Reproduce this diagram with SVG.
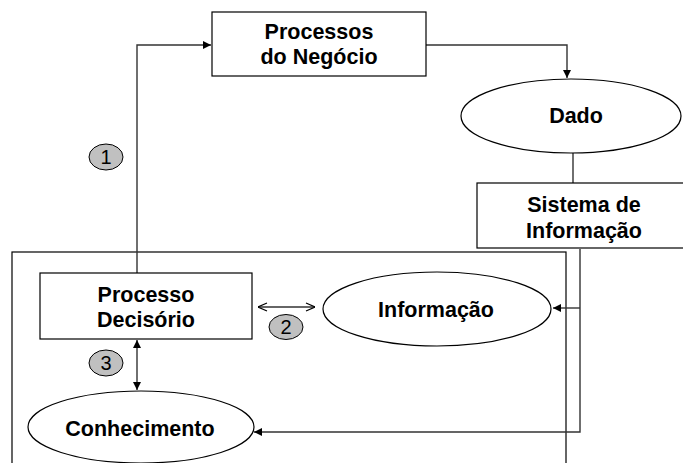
<svg xmlns="http://www.w3.org/2000/svg" width="683" height="463" viewBox="0 0 683 463">
<defs>
<style>
.box{fill:#fff;stroke:#000;stroke-width:1.2}
.frame{fill:none;stroke:#000;stroke-width:1.2}
.lbl{font-family:"Liberation Sans",Arial,sans-serif;font-weight:bold;font-size:21.5px;text-anchor:middle;fill:#000}
.num{font-family:"Liberation Sans",Arial,sans-serif;font-size:20px;text-anchor:middle;fill:#000}
.badge{fill:#c0c0c0;stroke:#000;stroke-width:1}
.con{fill:none;stroke:#333;stroke-width:1.4}
</style>
<marker id="tri" viewBox="0 0 10 10" refX="10" refY="5" markerWidth="8" markerHeight="8" markerUnits="userSpaceOnUse" orient="auto-start-reverse">
<path d="M0,0 L10,5 L0,10 z" fill="#000"/>
</marker>
<marker id="open" viewBox="0 0 10 10" refX="10" refY="5" markerWidth="10" markerHeight="10" markerUnits="userSpaceOnUse" orient="auto-start-reverse">
<path d="M1,1 L10,5 L1,9" fill="none" stroke="#000" stroke-width="1.2"/>
</marker>
</defs>
<rect class="frame" x="12" y="252" width="554" height="230"/>
<g id="connectors">
<path class="con" d="M137,273 V45 H211" marker-end="url(#tri)"/>
<path class="con" d="M426,45 H567 V78" marker-end="url(#tri)"/>
<path class="con" d="M573,153 V183"/>
<path class="con" d="M580,249 V432 H254" marker-end="url(#tri)"/>
<path class="con" d="M580,308 H553" marker-end="url(#tri)"/>
<path class="con" d="M258,307 H315" marker-start="url(#open)" marker-end="url(#open)"/>
<path class="con" d="M137,340 V390" marker-start="url(#tri)" marker-end="url(#tri)"/>
</g>
<g id="processos-negocio">
<rect class="box" x="212" y="12" width="214" height="64"/>
<text class="lbl" x="319" y="39">Processos</text>
<text class="lbl" x="319" y="64">do Negócio</text>
</g>
<g id="dado">
<ellipse class="box" cx="571" cy="116" rx="110" ry="37"/>
<text class="lbl" x="576" y="123">Dado</text>
</g>
<g id="sistema-informacao">
<rect class="box" x="477" y="183" width="214" height="65"/>
<text class="lbl" x="584" y="212">Sistema de</text>
<text class="lbl" x="584" y="238">Informação</text>
</g>
<g id="processo-decisorio">
<rect class="box" x="40" y="273" width="212" height="66"/>
<text class="lbl" x="146" y="302">Processo</text>
<text class="lbl" x="146" y="327">Decisório</text>
</g>
<g id="informacao">
<ellipse class="box" cx="437" cy="309" rx="114" ry="37"/>
<text class="lbl" x="436" y="317">Informação</text>
</g>
<g id="conhecimento">
<ellipse class="box" cx="141" cy="427" rx="113" ry="36"/>
<text class="lbl" x="140" y="436">Conhecimento</text>
</g>
<g id="badge-1">
<ellipse class="badge" cx="106" cy="157" rx="17" ry="13"/>
<text class="num" x="106" y="164">1</text>
</g>
<g id="badge-2">
<ellipse class="badge" cx="286" cy="327" rx="17" ry="12.5"/>
<text class="num" x="286" y="334">2</text>
</g>
<g id="badge-3">
<ellipse class="badge" cx="106" cy="363" rx="17" ry="13"/>
<text class="num" x="106" y="370">3</text>
</g>
</svg>
